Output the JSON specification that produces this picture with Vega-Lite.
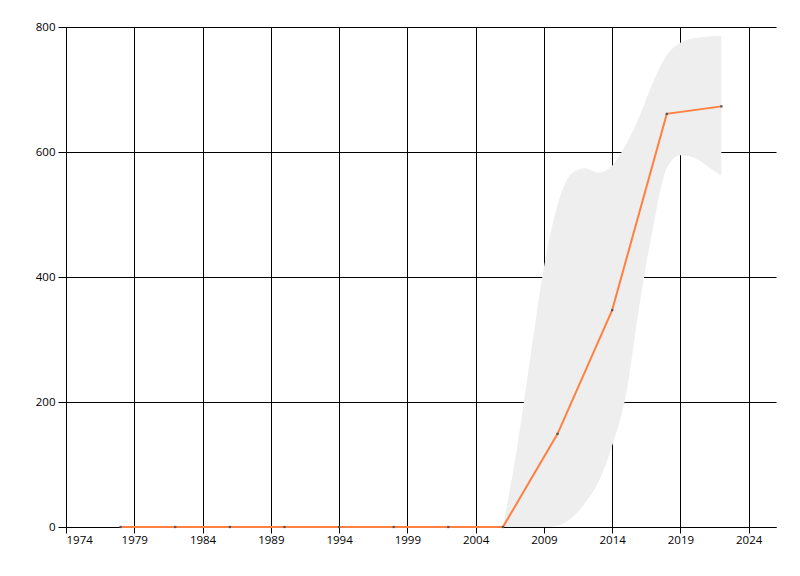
{
  "$schema": "https://vega.github.io/schema/vega-lite/v6.json",
  "width": 710,
  "height": 500,
  "autosize": {"type": "none"},
  "padding": {"left": 66, "top": 27, "right": 24, "bottom": 49},
  "background": "white",
  "config": {
    "view": {"stroke": null},
    "axis": {
      "labelFont": "Open Sans",
      "labelFontSize": 11.5,
      "labelColor": "#000000",
      "domainColor": "#000000",
      "tickColor": "#000000",
      "gridColor": "#000000",
      "gridOpacity": 1,
      "gridWidth": 1,
      "domainWidth": 1,
      "tickWidth": 1,
      "title": null
    }
  },
  "datasets": {
    "series": [
      {"year": 1978, "value": 0},
      {"year": 1982, "value": 0},
      {"year": 1986, "value": 0},
      {"year": 1990, "value": 0},
      {"year": 1994, "value": 0},
      {"year": 1998, "value": 0},
      {"year": 2002, "value": 0},
      {"year": 2006, "value": 0},
      {"year": 2010, "value": 149},
      {"year": 2014, "value": 347},
      {"year": 2018, "value": 661},
      {"year": 2022, "value": 673}
    ],
    "band": [
      {"year": 2006, "upper": 0, "lower": 0},
      {"year": 2007, "upper": 122, "lower": 0},
      {"year": 2008, "upper": 270, "lower": 0},
      {"year": 2009, "upper": 415, "lower": 0},
      {"year": 2010, "upper": 515, "lower": 2},
      {"year": 2011, "upper": 565, "lower": 14},
      {"year": 2012, "upper": 574, "lower": 38},
      {"year": 2013, "upper": 567, "lower": 72},
      {"year": 2014, "upper": 578, "lower": 130},
      {"year": 2015, "upper": 612, "lower": 210},
      {"year": 2016, "upper": 657, "lower": 355},
      {"year": 2017, "upper": 712, "lower": 480},
      {"year": 2018, "upper": 755, "lower": 574},
      {"year": 2019, "upper": 775, "lower": 595},
      {"year": 2020, "upper": 782, "lower": 591},
      {"year": 2021, "upper": 785, "lower": 577},
      {"year": 2022, "upper": 786, "lower": 562}
    ]
  },
  "layer": [
    {
      "data": {"name": "band"},
      "mark": {"type": "area", "color": "#EEEEEE", "opacity": 1, "interpolate": "monotone"},
      "encoding": {
        "x": {
          "field": "year", "type": "quantitative",
          "scale": {"domain": [1974, 2026], "nice": false, "zero": false},
          "axis": {
            "values": [1974, 1979, 1984, 1989, 1994, 1999, 2004, 2009, 2014, 2019, 2024],
            "format": "d", "tickSize": 6, "labelPadding": 1, "grid": true
          }
        },
        "y": {
          "field": "upper", "type": "quantitative",
          "scale": {"domain": [0, 800], "nice": false},
          "axis": {"values": [0, 200, 400, 600, 800], "tickSize": 8, "labelPadding": 3, "grid": true}
        },
        "y2": {"field": "lower"}
      }
    },
    {
      "data": {"name": "series"},
      "mark": {"type": "line", "color": "#FF8040", "strokeWidth": 2},
      "encoding": {
        "x": {"field": "year", "type": "quantitative"},
        "y": {"field": "value", "type": "quantitative"}
      }
    },
    {
      "data": {"name": "series"},
      "mark": {"type": "square", "color": "#555555", "filled": true, "size": 5, "opacity": 1},
      "encoding": {
        "x": {"field": "year", "type": "quantitative"},
        "y": {"field": "value", "type": "quantitative"}
      }
    }
  ]
}
